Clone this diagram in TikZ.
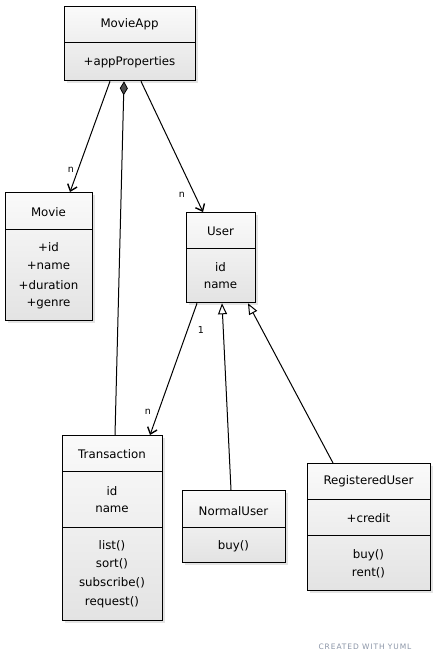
\documentclass[tikz,border=0pt]{standalone}
\usepackage{fontspec}
\setmainfont{DejaVu Sans}
\usetikzlibrary{arrows.meta,calc,shadows}
\definecolor{credit}{HTML}{8A94A6}
\begin{document}
\begin{tikzpicture}[x=1pt,y=-1pt,
  classbox/.style={draw=black, line width=1.3pt, top color=black!2, bottom color=black!11,
    drop shadow={opacity=0.18, shadow xshift=2.5pt, shadow yshift=-2.5pt, fill=black!60},
    inner sep=0pt, anchor=north west},
  divider/.style={line width=1pt},
  txt/.style={font=\fontsize{11.8}{13}\selectfont, inner sep=0pt, anchor=center},
  mult/.style={font=\fontsize{9.5}{10}\selectfont, inner sep=0pt},
  assoc/.style={line width=1pt, -{Straight Barb[length=6pt,width=10pt,line width=1.4pt]}},
  inherit/.style={line width=1pt, -{Triangle[open,length=11pt,width=9pt,fill=white,line width=1pt]}},
  compose/.style={line width=1pt, {Diamond[length=14pt,width=8pt,fill=black!70,line width=0.8pt]}-}
]
\useasboundingbox (0,0) rectangle (435,663);

% ---- class boxes ----
\node[classbox, minimum width=131pt, minimum height=74pt] (app) at (64,6) {};
\draw[divider] (app.west |- 0,43) -- (app.east |- 0,43);
\node[txt] at (129.5,24) {MovieApp};
\node[txt] at (129.5,62) {+appProperties};

\node[classbox, minimum width=87pt, minimum height=128pt] (movie) at (5,192) {};
\draw[divider] (movie.west |- 0,229) -- (movie.east |- 0,229);
\node[txt] at (48.5,212) {Movie};
\node[txt] at (48.5,247) {+id};
\node[txt] at (48.5,266) {+name};
\node[txt] at (48.5,285) {+duration};
\node[txt] at (48.5,304) {+genre};

\node[classbox, minimum width=69pt, minimum height=90pt] (user) at (186,212) {};
\draw[divider] (user.west |- 0,248) -- (user.east |- 0,248);
\node[txt] at (220.5,231) {User};
\node[txt] at (220.5,267) {id};
\node[txt] at (220.5,285) {name};

\node[classbox, minimum width=100pt, minimum height=185pt] (trans) at (62,435) {};
\draw[divider] (trans.west |- 0,471) -- (trans.east |- 0,471);
\draw[divider] (trans.west |- 0,527) -- (trans.east |- 0,527);
\node[txt] at (112,454) {Transaction};
\node[txt] at (112,491) {id};
\node[txt] at (112,509) {name};
\node[txt] at (112,546) {list()};
\node[txt] at (112,564) {sort()};
\node[txt] at (112,583) {subscribe()};
\node[txt] at (112,602) {request()};

\node[classbox, minimum width=103pt, minimum height=72pt] (normal) at (182,490) {};
\draw[divider] (normal.west |- 0,527) -- (normal.east |- 0,527);
\node[txt] at (233.5,511) {NormalUser};
\node[txt] at (233.5,546) {buy()};

\node[classbox, minimum width=123pt, minimum height=127pt] (reg) at (307,463) {};
\draw[divider] (reg.west |- 0,499) -- (reg.east |- 0,499);
\draw[divider] (reg.west |- 0,535) -- (reg.east |- 0,535);
\node[txt] at (368.5,481) {RegisteredUser};
\node[txt] at (368.5,518) {+credit};
\node[txt] at (368.5,555) {buy()};
\node[txt] at (368.5,573) {rent()};

% ---- connectors ----
\draw[assoc] ($(app.south west)+(46,0)$) -- ($(movie.north west)+(65,0)$);
\node[mult] (nmovie) at (71,170) {n};

\draw[assoc] ($(app.south west)+(77,0)$) -- ($(user.north west)+(17,0)$);
\node[mult] (nuser) at (182,195) {n};

\draw[compose] ($(app.south west)+(60,0)$) -- ($(trans.north west)+(53,0)$);

\draw[assoc] ($(user.south west)+(11,0)$) -- ($(trans.north west)+(88,0)$);
\node[mult] (one) at (201,330) {1};
\node[mult] (ntrans) at (148,412) {n};

\draw[inherit] ($(normal.north west)+(49,0)$) -- ($(user.south west)+(36,0)$);
\draw[inherit] ($(reg.north west)+(26,0)$) -- ($(user.south west)+(62,0)$);

% ---- credit line ----
\node[font=\fontsize{7.5}{8}\selectfont\addfontfeature{LetterSpace=12}, text=credit, inner sep=0pt] (credit) at (365,647) {CREATED WITH YUML};
\end{tikzpicture}
\end{document}
